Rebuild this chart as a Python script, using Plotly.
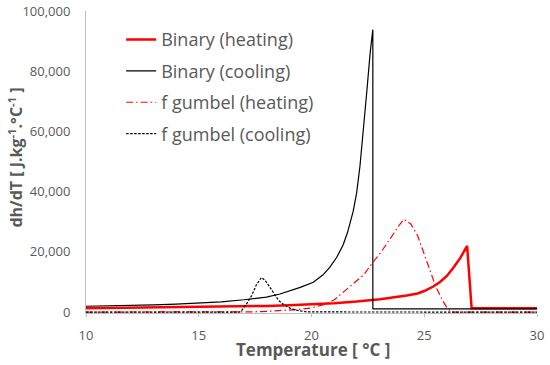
import plotly.graph_objects as go

# Binary (heating)
bh_T = [10, 12, 14, 16, 18, 19, 20, 21, 22, 23.04, 24.22, 24.7, 25.0, 25.4, 25.7, 26.0, 26.29, 26.6, 26.9, 27.1, 30]
bh_v = [1300, 1450, 1600, 1800, 2050, 2250, 2550, 2950, 3500, 4300, 5500, 6200, 7000, 8500, 10000, 12000, 14700, 18000, 22000, 1250, 1250]

# Binary (cooling)
bc_T = [10, 11, 12, 13, 14, 15, 16, 17, 18, 18.6, 19, 19.5, 20.08, 20.5, 20.8, 21.12, 21.4, 21.6, 21.85, 22.0, 22.15, 22.3, 22.45, 22.6, 22.72, 22.72, 30]
bc_v = [1950, 2050, 2200, 2400, 2650, 2950, 3400, 4100, 5000, 6000, 6900, 8200, 9900, 12300, 14800, 18200, 22300, 26500, 33500, 39500, 48500, 60000, 73000, 86000, 93800, 1100, 1100]

# f gumbel (heating)
gh_T = [10, 17.0, 17.5, 18, 18.5, 19, 19.5, 20, 20.5, 21, 21.56, 22, 22.33, 22.67, 23.07, 23.5, 23.9, 24.1, 24.4, 24.7, 25.03, 25.5, 25.8, 26.0, 26.2, 30]
gh_v = [0, 0, 100, 250, 400, 600, 900, 1400, 2400, 4000, 7700, 10300, 12500, 16000, 19800, 24500, 29000, 30800, 29300, 25500, 18600, 8700, 4000, 1500, 0, 0]

# f gumbel (cooling)
gc_T = [10, 16.8, 16.9, 17.1, 17.35, 17.55, 17.78, 17.95, 18.3, 18.55, 18.82, 19.1, 19.4, 19.8, 30]
gc_v = [0, 0, 530, 2500, 5500, 9000, 11500, 10500, 6600, 3800, 2200, 1100, 530, 50, 0]

FONT = "Open Sans"
GRAY = "#595959"

fig = go.Figure()
fig.add_trace(go.Scatter(x=bh_T, y=bh_v, mode="lines", name="Binary (heating)",
                         line=dict(color="#ff0000", width=2.5), legendgroup="a"))
fig.add_trace(go.Scatter(x=bc_T, y=bc_v, mode="lines", name="Binary (cooling)",
                         line=dict(color="#000000", width=1.2), legendgroup="b"))
fig.add_trace(go.Scatter(x=gh_T, y=gh_v, mode="lines", name="f gumbel (heating)",
                         line=dict(color="#ff0000", width=1.2, dash="7px,3px,1.5px,3px"), legendgroup="c"))
fig.add_trace(go.Scatter(x=gc_T, y=gc_v, mode="lines", name="f gumbel (cooling)",
                         line=dict(color="#000000", width=1.2, dash="2.5px,1.5px"), legendgroup="d"))

fig.update_layout(
    width=550, height=365,
    margin=dict(l=86, r=13, t=11, b=52),
    paper_bgcolor="white", plot_bgcolor="white",
    font=dict(family=FONT, color=GRAY),
    showlegend=True,
    legend=dict(x=0.078, y=0.966, xanchor="left", yanchor="top",
                font=dict(size=18, color=GRAY, family=FONT),
                bgcolor="rgba(0,0,0,0)", traceorder="grouped", tracegroupgap=5,
                itemwidth=30),
    xaxis=dict(range=[10, 30], dtick=5, showgrid=False, zeroline=False,
               showline=True, linecolor="#bfbfbf", linewidth=1,
               ticks="outside", ticklen=3, tickcolor="#bfbfbf", automargin=False,
               ticklabelstandoff=7,
               tickfont=dict(size=13, color=GRAY, family=FONT)),
    yaxis=dict(range=[-300, 100000], dtick=20000, tickformat=",", showgrid=False, zeroline=False,
               showline=True, linecolor="#bfbfbf", linewidth=1, automargin=False,
               ticks="", ticklabelstandoff=12,
               tickfont=dict(size=13, color=GRAY, family=FONT)),
    annotations=[
        dict(text="<b>Temperature [ °C ]</b>", xref="paper", yref="paper",
             x=0.503, y=-0.121, xanchor="center", yanchor="middle", showarrow=False,
             font=dict(size=17, color=GRAY, family=FONT)),
        dict(text="<b>dh/dT [ J.kg<sup>-1</sup>.°C<sup>-1</sup> ]</b>", xref="paper", yref="paper",
             x=-0.155, y=0.515, xanchor="center", yanchor="middle", showarrow=False, textangle=-90,
             font=dict(size=16, color=GRAY, family=FONT)),
    ],
)

# remove the browser's default 8px page margin so the figure sits at the window's top-left corner
fig.write_html("out.html", config={"displayModeBar": False},
               post_script="document.body.style.margin='0px';")
